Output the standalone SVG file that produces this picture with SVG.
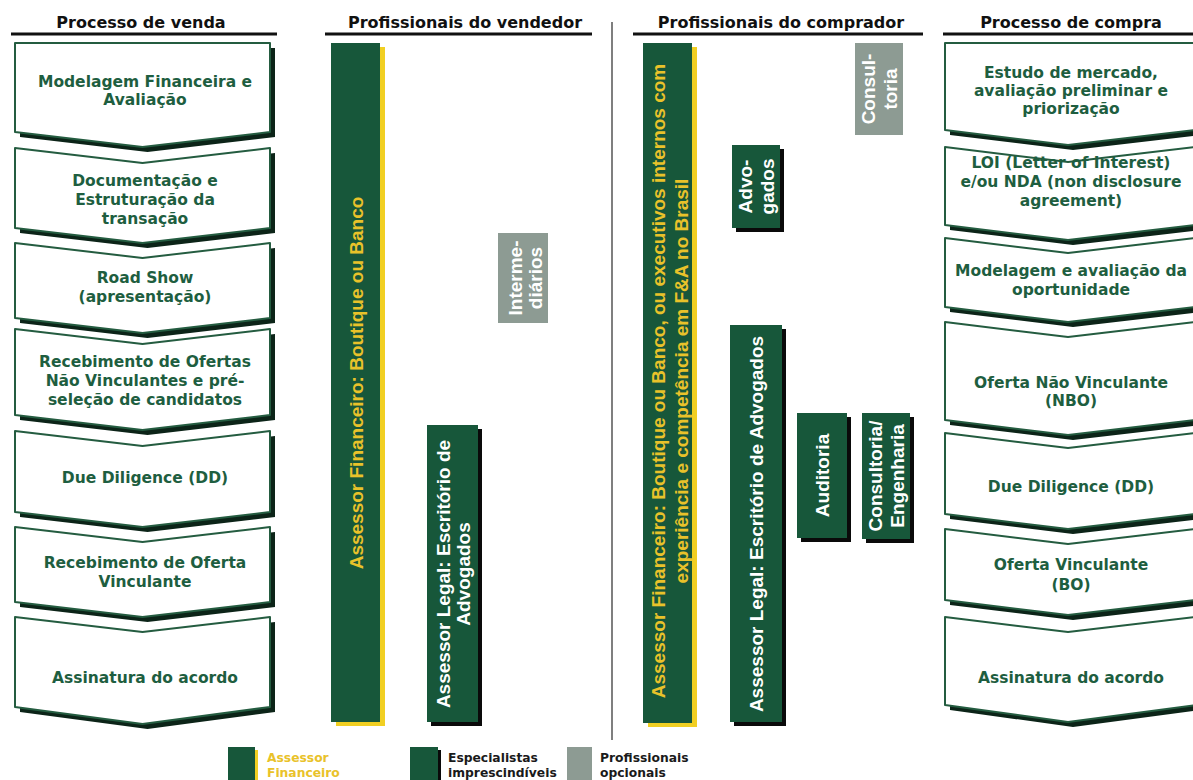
<svg xmlns="http://www.w3.org/2000/svg" width="1193" height="780" viewBox="0 0 1193 780">
<style>
.hdr{font-family:"DejaVu Sans","Liberation Sans",sans-serif;font-weight:bold;font-size:16px;fill:#111;text-anchor:middle}
.hl{stroke:#111;stroke-width:3}
.chev{fill:#fff;stroke:#245c40;stroke-width:2;stroke-linejoin:round}
.chsh{fill:#0c2418}
.ct{font-family:"DejaVu Sans","Liberation Sans",sans-serif;font-weight:bold;font-size:15.5px;fill:#1e5e40;text-anchor:middle}
.gr{fill:#17573a}
.ysh{fill:#f1cf22}
.bsh{fill:#0a0a0a}
.gy{fill:#8d9b93}
.vt{font-family:"Liberation Sans",Arial,sans-serif;font-weight:bold;font-size:19px;fill:#fff;text-anchor:middle}
.vy{fill:#e9c22a}
.lg{font-family:"DejaVu Sans","Liberation Sans",sans-serif;font-weight:bold;font-size:12.3px;fill:#1a1a1a}
.lgy{fill:#e9c22a}
</style>
<rect width="1193" height="780" fill="#fff"/>

<g id="headers">
<text class="hdr" x="141" y="28">Processo de venda</text>
<line class="hl" x1="11" y1="34" x2="277" y2="34"/>
<text class="hdr" x="465" y="28">Profissionais do vendedor</text>
<line class="hl" x1="325" y1="34" x2="592" y2="34"/>
<text class="hdr" x="781" y="28">Profissionais do comprador</text>
<line class="hl" x1="633" y1="34" x2="923" y2="34"/>
<text class="hdr" x="1071" y="28">Processo de compra</text>
<line class="hl" x1="943" y1="34" x2="1193" y2="34"/>
</g>

<g id="connectors">
<line x1="612" y1="22" x2="612" y2="740" stroke="#555" stroke-width="1.5"/>
</g>

<g id="venda-1">
<polygon class="chsh" transform="translate(5,5)" points="15,43 270,43 270,132 142.5,147 15,132"/>
<polygon class="chev" points="15,43 270,43 270,132 142.5,147 15,132"/>
<text class="ct"><tspan x="145" y="87">Modelagem Financeira e</tspan><tspan x="145" y="105">Avaliação</tspan></text>
</g>
<g id="venda-2">
<polygon class="chsh" transform="translate(5,5)" points="15,148 142.5,163 270,148 270,228 142.5,243 15,228"/>
<polygon class="chev" points="15,148 142.5,163 270,148 270,228 142.5,243 15,228"/>
<text class="ct"><tspan x="145" y="186">Documentação e</tspan><tspan x="145" y="205">Estruturação da</tspan><tspan x="145" y="224">transação</tspan></text>
</g>
<g id="venda-3">
<polygon class="chsh" transform="translate(5,5)" points="15,243 142.5,258 270,243 270,318 142.5,333 15,318"/>
<polygon class="chev" points="15,243 142.5,258 270,243 270,318 142.5,333 15,318"/>
<text class="ct"><tspan x="145" y="283">Road Show</tspan><tspan x="145" y="302">(apresentação)</tspan></text>
</g>
<g id="venda-4">
<polygon class="chsh" transform="translate(5,5)" points="15,329 142.5,344 270,329 270,415 142.5,430 15,415"/>
<polygon class="chev" points="15,329 142.5,344 270,329 270,415 142.5,430 15,415"/>
<text class="ct"><tspan x="145" y="367">Recebimento de Ofertas</tspan><tspan x="145" y="386">Não Vinculantes e pré-</tspan><tspan x="145" y="405">seleção de candidatos</tspan></text>
</g>
<g id="venda-5">
<polygon class="chsh" transform="translate(5,5)" points="15,431 142.5,446 270,431 270,512 142.5,527 15,512"/>
<polygon class="chev" points="15,431 142.5,446 270,431 270,512 142.5,527 15,512"/>
<text class="ct" x="145" y="483">Due Diligence (DD)</text>
</g>
<g id="venda-6">
<polygon class="chsh" transform="translate(5,5)" points="15,527 142.5,542 270,527 270,602 142.5,617 15,602"/>
<polygon class="chev" points="15,527 142.5,542 270,527 270,602 142.5,617 15,602"/>
<text class="ct"><tspan x="145" y="568">Recebimento de Oferta</tspan><tspan x="145" y="587">Vinculante</tspan></text>
</g>
<g id="venda-7">
<polygon class="chsh" transform="translate(5,5)" points="15,617 142.5,632 270,617 270,707 142.5,724 15,707"/>
<polygon class="chev" points="15,617 142.5,632 270,617 270,707 142.5,724 15,707"/>
<text class="ct" x="145" y="683">Assinatura do acordo</text>
</g>

<g id="vend-fa">
<rect class="ysh" x="336" y="47" width="49" height="679"/>
<rect class="gr" x="331" y="43" width="49" height="679"/>
<text class="vt vy" transform="translate(356,383) rotate(-90)" y="7">Assessor Financeiro: Boutique ou Banco</text>
</g>
<g id="vend-interm">
<rect class="gy" x="498" y="233" width="50" height="90"/>
<text class="vt" transform="translate(525,278) rotate(-90)"><tspan x="0" y="-3.5">Interme-</tspan><tspan x="0" y="16.5">diários</tspan></text>
</g>
<g id="vend-legal">
<rect class="bsh" x="431" y="429" width="51" height="297"/>
<rect class="gr" x="427" y="425" width="51" height="297"/>
<text class="vt" transform="translate(453,574) rotate(-90)"><tspan x="0" y="-3.5">Assessor Legal: Escritório de</tspan><tspan x="0" y="16.5">Advogados</tspan></text>
</g>

<g id="comp-fa">
<rect class="ysh" x="648" y="47" width="49" height="680"/>
<rect class="gr" x="643" y="43" width="49" height="680"/>
<text class="vt vy" transform="translate(669,381) rotate(-90)"><tspan x="0" y="-4.5">Assessor Financeiro: Boutique ou Banco, ou executivos internos com</tspan><tspan x="0" y="18.5">experiência e competência  em F&amp;A no Brasil</tspan></text>
</g>
<g id="comp-advogados">
<rect class="bsh" x="736" y="149" width="48" height="83"/>
<rect class="gr" x="732" y="145" width="48" height="83"/>
<text class="vt" transform="translate(756,186.5) rotate(-90)"><tspan x="0" y="-4.5">Advo-</tspan><tspan x="0" y="17.5">gados</tspan></text>
</g>
<g id="comp-consultoria">
<rect class="gy" x="855" y="43" width="48" height="92"/>
<text class="vt" transform="translate(879,89) rotate(-90)"><tspan x="0" y="-4.5">Consul-</tspan><tspan x="0" y="17.5">toria</tspan></text>
</g>
<g id="comp-legal">
<rect class="bsh" x="734" y="329" width="52" height="397"/>
<rect class="gr" x="730" y="325" width="52" height="397"/>
<text class="vt" transform="translate(756,524) rotate(-90)" y="7">Assessor Legal: Escritório de Advogados</text>
</g>
<g id="comp-auditoria">
<rect class="bsh" x="801" y="417" width="50" height="125"/>
<rect class="gr" x="797" y="413" width="50" height="125"/>
<text class="vt" transform="translate(822,475.5) rotate(-90)" y="7">Auditoria</text>
</g>
<g id="comp-engenharia">
<rect class="bsh" x="866" y="417" width="48" height="126"/>
<rect class="gr" x="862" y="413" width="48" height="126"/>
<text class="vt" transform="translate(886,476) rotate(-90)"><tspan x="0" y="-4.5">Consultoria/</tspan><tspan x="0" y="17.5">Engenharia</tspan></text>
</g>

<g id="compra-1">
<polygon class="chsh" transform="translate(5,5)" points="945,43 1196,43 1196,130 1068,145 945,130"/>
<polygon class="chev" points="945,43 1196,43 1196,130 1068,145 945,130"/>
<text class="ct"><tspan x="1071" y="78">Estudo de mercado,</tspan><tspan x="1071" y="96">avaliação preliminar e</tspan><tspan x="1071" y="114">priorização</tspan></text>
</g>
<g id="compra-2">
<polygon class="chsh" transform="translate(5,5)" points="945,147 1068,162 1196,147 1196,225 1068,240 945,225"/>
<polygon class="chev" points="945,147 1068,162 1196,147 1196,225 1068,240 945,225"/>
<text class="ct"><tspan x="1071" y="168">LOI (Letter of Interest)</tspan><tspan x="1071" y="187">e/ou NDA (non disclosure</tspan><tspan x="1071" y="206">agreement)</tspan></text>
</g>
<g id="compra-3">
<polygon class="chsh" transform="translate(5,5)" points="945,238 1068,253 1196,238 1196,307 1068,322 945,307"/>
<polygon class="chev" points="945,238 1068,253 1196,238 1196,307 1068,322 945,307"/>
<text class="ct"><tspan x="1071" y="276">Modelagem e avaliação da</tspan><tspan x="1071" y="295">oportunidade</tspan></text>
</g>
<g id="compra-4">
<polygon class="chsh" transform="translate(5,5)" points="945,322 1068,337 1196,322 1196,420 1068,435 945,420"/>
<polygon class="chev" points="945,322 1068,337 1196,322 1196,420 1068,435 945,420"/>
<text class="ct"><tspan x="1071" y="388">Oferta Não Vinculante</tspan><tspan x="1071" y="406">(NBO)</tspan></text>
</g>
<g id="compra-5">
<polygon class="chsh" transform="translate(5,5)" points="945,433 1068,448 1196,433 1196,514 1068,529 945,514"/>
<polygon class="chev" points="945,433 1068,448 1196,433 1196,514 1068,529 945,514"/>
<text class="ct" x="1071" y="492">Due Diligence (DD)</text>
</g>
<g id="compra-6">
<polygon class="chsh" transform="translate(5,5)" points="945,529 1068,544 1196,529 1196,600 1068,615 945,600"/>
<polygon class="chev" points="945,529 1068,544 1196,529 1196,600 1068,615 945,600"/>
<text class="ct"><tspan x="1071" y="570">Oferta Vinculante</tspan><tspan x="1071" y="590">(BO)</tspan></text>
</g>
<g id="compra-7">
<polygon class="chsh" transform="translate(5,5)" points="945,617 1068,632 1196,617 1196,705 1068,722 945,705"/>
<polygon class="chev" points="945,617 1068,632 1196,617 1196,705 1068,722 945,705"/>
<text class="ct" x="1071" y="683">Assinatura do acordo</text>
</g>

<g id="legend">
<rect class="ysh" x="231" y="750" width="27" height="35"/>
<rect class="gr" x="228" y="747" width="27" height="35"/>
<text class="lg lgy"><tspan x="267" y="762">Assessor</tspan><tspan x="267" y="777">Financeiro</tspan></text>
<rect class="bsh" x="413" y="750" width="28" height="35"/>
<rect class="gr" x="410" y="747" width="28" height="35"/>
<text class="lg"><tspan x="448" y="762">Especialistas</tspan><tspan x="448" y="777">imprescindíveis</tspan></text>
<rect class="gy" x="567" y="747" width="25" height="35"/>
<text class="lg"><tspan x="600" y="762">Profissionais</tspan><tspan x="600" y="777">opcionais</tspan></text>
</g>
</svg>
